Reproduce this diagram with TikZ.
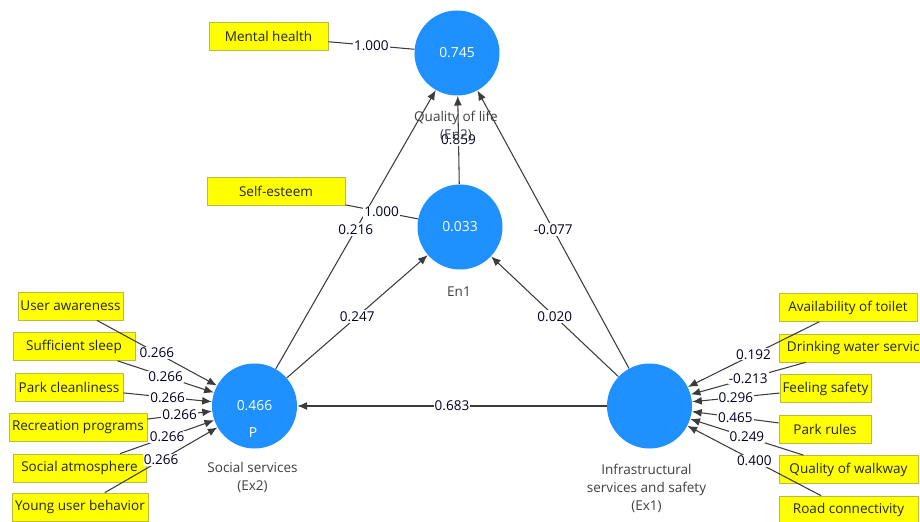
\documentclass[tikz,border=0pt]{standalone}
\usepackage{fontspec}
\setmainfont{Open Sans}
\usepackage{tikz}
\usetikzlibrary{arrows.meta}
\definecolor{plsblue}{RGB}{30,144,255}
\definecolor{indyellow}{RGB}{255,255,0}
\definecolor{indborder}{RGB}{185,185,70}
\definecolor{linkgray}{RGB}{60,60,60}
\tikzset{>={Latex[length=5.5pt,width=4.5pt]}}
\tikzset{
  lv/.style={circle, fill=plsblue, minimum size=1.70cm, inner sep=0pt, text=white, font=\fontsize{7.9}{9}\selectfont},
  ind/.style={rectangle, draw=indborder, fill=indyellow, minimum height=0.56cm, inner sep=1pt, text=black!85, font=\fontsize{7.7}{9}\selectfont},
  coef/.style={fill=white, inner sep=0.6pt, text=black!85!blue, font=\fontsize{7.7}{9}\selectfont},
  lvname/.style={align=center, text=black!75, font=\fontsize{7.7}{10.2}\selectfont},
  link/.style={draw=linkgray, line width=0.6pt}
}

\begin{document}
\begin{tikzpicture}
\useasboundingbox (0,0) rectangle (18.4,10.42);
\fill[white] (0,0) rectangle (18.4,10.42);

% latent variables
\node[lv] (Ql) at (9.14, 9.36) {0.745};
\node[lv] (En1) at (9.20, 5.88) {0.033};
\node[lv] (P) at (5.09, 2.30) {0.466};
\node[lv] (Ex1) at (12.99, 2.30) {};
\node[text=white, font=\fontsize{7.9}{9}\selectfont] (Pt) at (5.06, 1.76) {P};

% indicators
\node[ind, minimum width=2.38cm] (MH) at (5.37, 9.69) {Mental health};
\node[ind, minimum width=2.76cm] (SE) at (5.52, 6.59) {Self-esteem};
\node[ind, minimum width=2.10cm] (UA) at (1.41, 4.30) {User awareness};
\node[ind, minimum width=2.44cm] (SS) at (1.48, 3.49) {Sufficient sleep};
\node[ind, minimum width=2.16cm] (PC) at (1.38, 2.67) {Park cleanliness};
\node[ind, minimum width=2.76cm] (RP) at (1.56, 1.87) {Recreation programs};
\node[ind, minimum width=2.66cm] (SA) at (1.59, 1.06) {Social atmosphere};
\node[ind, minimum width=2.72cm] (YU) at (1.60, 0.28) {Young user behavior};
\node[ind, minimum width=2.76cm] (AT) at (16.96, 4.27) {Availability of toilet};
\node[ind, minimum width=3.12cm] (DW) at (17.14, 3.46) {Drinking water service};
\node[ind, minimum width=1.82cm] (FS) at (16.51, 2.65) {Feeling safety};
\node[ind, minimum width=1.84cm] (PR) at (16.50, 1.84) {Park rules};
\node[ind, minimum width=2.78cm] (QW) at (16.97, 1.03) {Quality of walkway};
\node[ind, minimum width=2.78cm] (RC) at (16.97, 0.22) {Road connectivity};

% inner model
\draw[link,->] (En1) -- node[coef] {0.859} (Ql);
\draw[link,->] (P) -- node[coef] {0.216} (Ql);
\draw[link,->] (P) -- node[coef] {0.247} (En1);
\draw[link,->] (Ex1) -- node[coef] {0.020} (En1);
\draw[link,->] (Ex1) -- node[coef] {-0.077} (Ql);
\draw[link,->] (Ex1) -- node[coef] {0.683} (P);

% outer model
\draw[link] (MH) -- node[coef] {1.000} (Ql);
\draw[link] (SE) -- node[coef] {1.000} (En1);
\draw[link,->] (UA) -- node[coef] {0.266} (P);
\draw[link,->] (SS) -- node[coef] {0.266} (P);
\draw[link,->] (PC) -- node[coef] {0.266} (P);
\draw[link,->] (RP) -- node[coef] {0.266} (P);
\draw[link,->] (SA) -- node[coef] {0.266} (P);
\draw[link,->] (YU) -- node[coef] {0.266} (P);
\draw[link,->] (AT) -- node[coef] {0.192} (Ex1);
\draw[link,->] (DW) -- node[coef] {-0.213} (Ex1);
\draw[link,->] (FS) -- node[coef] {0.296} (Ex1);
\draw[link,->] (PR) -- node[coef] {0.465} (Ex1);
\draw[link,->] (QW) -- node[coef] {0.249} (Ex1);
\draw[link,->] (RC) -- node[coef] {0.400} (Ex1);

% names
\node[lvname] (QlName) at (9.12, 7.90) {Quality of life\\(En2)};
\node[lvname] (En1Name) at (9.18, 4.58) {En1};
\node[lvname] (PName) at (5.05, 0.87) {Social services\\(Ex2)};
\node[lvname] (Ex1Name) at (12.93, 0.66) {Infrastructural\\services and safety\\(Ex1)};
\end{tikzpicture}
\end{document}
